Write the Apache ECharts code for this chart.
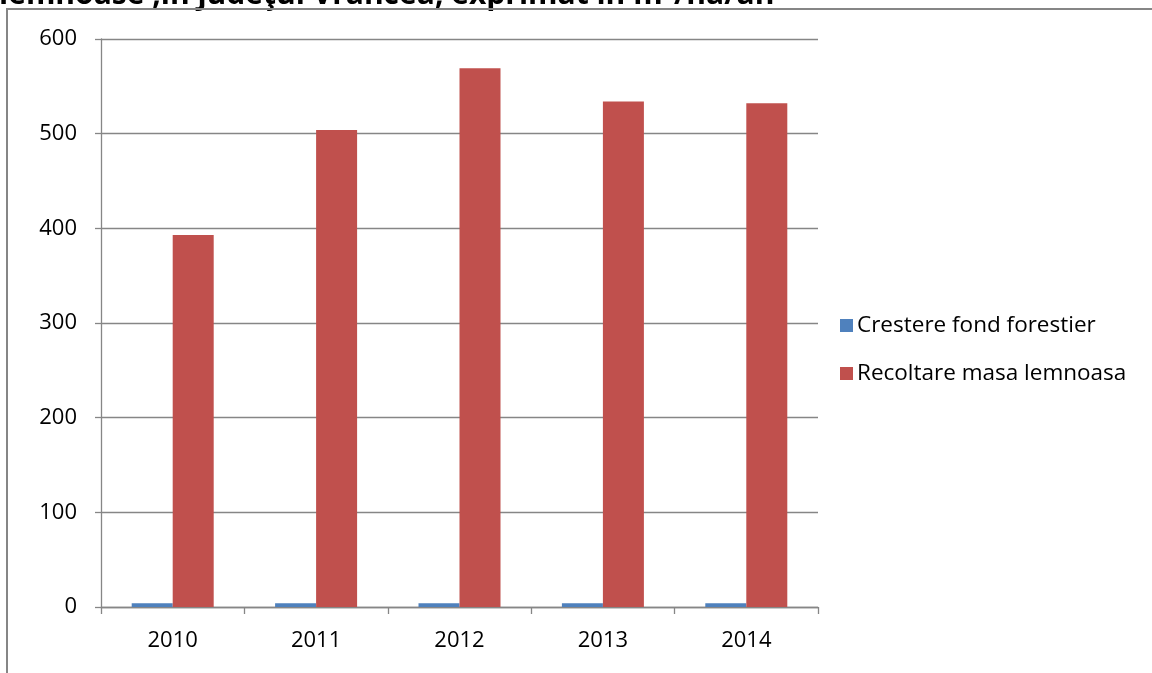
<!DOCTYPE html>
<html>
<head>
<meta charset="utf-8">
<script src="https://cdn.jsdelivr.net/npm/echarts@6/dist/echarts.min.js"></script>
<style>
  html, body { margin: 0; padding: 0; background: #fff; }
  #chart { width: 1152px; height: 673px; }
</style>
</head>
<body>
<div id="chart"></div>
<script>
var years = ["2010", "2011", "2012", "2013", "2014"];
var crestere = [4, 4, 4, 4, 4];
var recoltare = [393, 504, 569, 534, 532];
var yTicks = [0, 100, 200, 300, 400, 500, 600];

var gray = "#868686";
var font = "'Open Sans', sans-serif";

var chart = echarts.init(document.getElementById("chart"));

// options of the chart
var option = {
    animation: false,
    backgroundColor: "#fff",
    graphic: [
        {
            type: "text",
            left: -1,
            top: -20,
            style: {
                text: "lemnoase ,în judeţul Vrancea, exprimat în m³/ha/an",
                font: "bold 30px " + font,
                fill: "#000"
            }
        },
        {
            type: "rect",
            shape: { x: 7, y: 9, width: 1200, height: 700 },
            style: { fill: "none", stroke: gray, lineWidth: 2 }
        }
    ],
    grid: {
        left: 101,
        top: 39,
        right: 334,
        bottom: 66
    },
    legend: {
        orient: "vertical",
        left: 835,
        top: 309,
        itemWidth: 13,
        itemHeight: 13,
        itemGap: 25,
        icon: "rect",
        textStyle: { fontFamily: font, fontSize: 22.5, color: "#000", padding: [0, 0, 0, -1] },
        data: ["Crestere fond forestier", "Recoltare masa lemnoasa"]
    },
    xAxis: {
        type: "category",
        data: years,
        axisLine: { lineStyle: { color: gray, width: 1.3 } },
        axisTick: { show: true, length: 7, lineStyle: { color: gray, width: 1.3 } },
        axisLabel: { fontFamily: font, fontSize: 22, color: "#000", margin: 23 }
    },
    yAxis: {
        type: "value",
        min: yTicks[0],
        max: yTicks[yTicks.length - 1],
        interval: 100,
        axisLine: { show: true, lineStyle: { color: gray, width: 1.3 } },
        axisTick: { show: true, length: 6, lineStyle: { color: gray, width: 1.3 } },
        splitLine: { lineStyle: { color: gray, width: 1.3 } },
        axisLabel: { fontFamily: font, fontSize: 22, color: "#000", margin: 24 }
    },
    series: [
        {
            name: "Crestere fond forestier",
            type: "bar",
            data: crestere,
            barWidth: 41,
            barGap: "0%",
            itemStyle: { color: "#4F81BD" }
        },
        {
            name: "Recoltare masa lemnoasa",
            type: "bar",
            data: recoltare,
            barWidth: 41,
            barGap: "0%",
            itemStyle: { color: "#C0504D" }
        }
    ]
};

chart.setOption(option);
</script>
</body>
</html>
